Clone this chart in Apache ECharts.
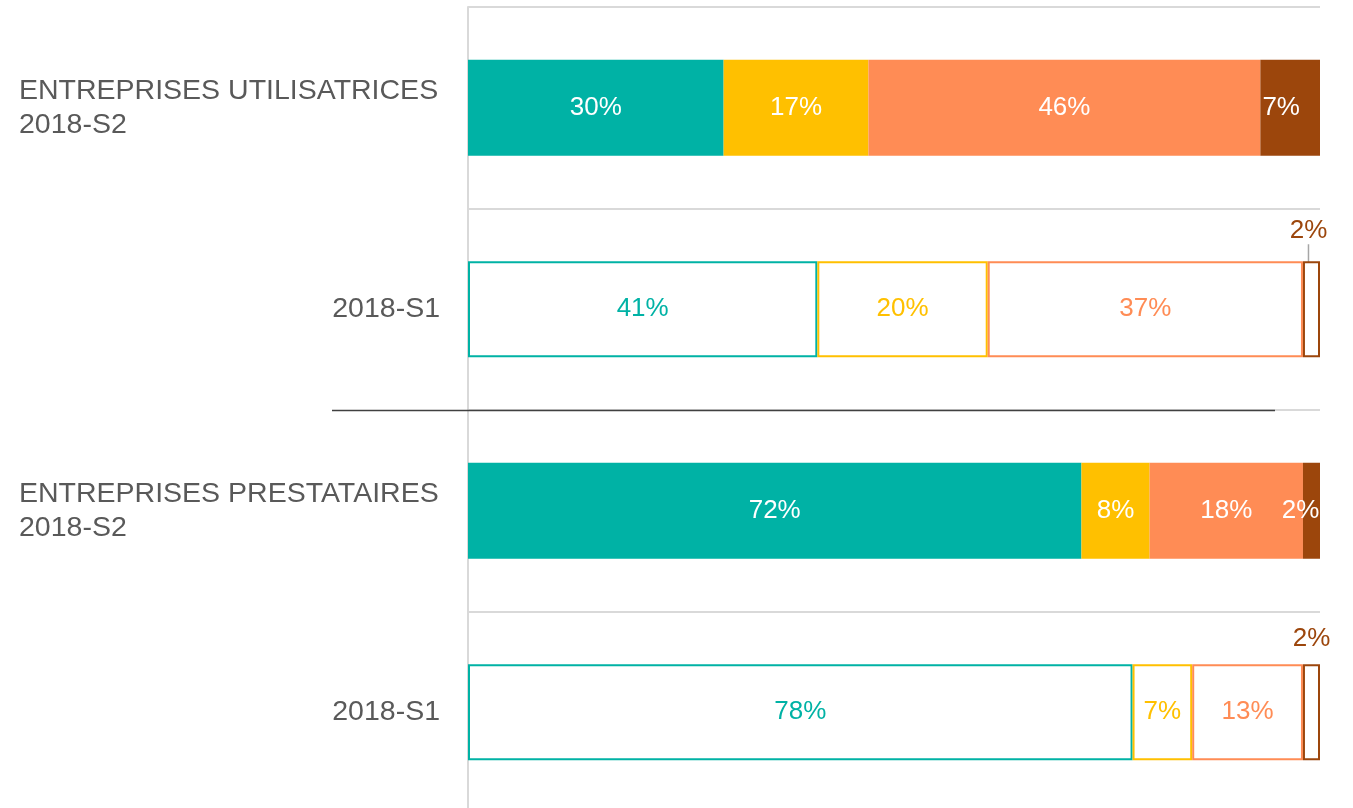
<!DOCTYPE html>
<html>
<head>
<meta charset="utf-8">
<script src="https://cdn.jsdelivr.net/npm/echarts@6/dist/echarts.min.js"></script>
<style>
  html, body { margin: 0; padding: 0; background: #ffffff; }
  #chart { width: 1353px; height: 808px; }
</style>
</head>
<body>
<div id="chart"></div>
<script>
// Rows, top to bottom
const groups = ['ENTREPRISES UTILISATRICES', '', 'ENTREPRISES PRESTATAIRES', ''];
const periods = ['2018-S2', '2018-S1', '2018-S2', '2018-S1'];

// Share of answers per row (%)
const seriesNames = ['A', 'B', 'C', 'D'];
const valuesA = [30, 41, 72, 78];
const valuesB = [17, 20, 8, 7];
const valuesC = [46, 37, 18, 13];
const valuesD = [7, 2, 2, 2];

const colors = ['#00B2A5', '#FFC000', '#FF8C55', '#9C460C'];
const allValues = [valuesA, valuesB, valuesC, valuesD];

const categories = periods.map((p, i) => (groups[i] ? groups[i] + '\n' + p : p));
const isCurrent = periods.map(p => p === '2018-S2');

const chart = echarts.init(document.getElementById('chart'));

// Small last segments: nudge the labels of filled bars left, lift the others above the bar
function lastSegmentLayout(params) {
  const i = params.dataIndex;
  if (isCurrent[i]) return { dx: i === 0 ? -9 : -11 };
  if (i === 1) return { dx: -3, dy: -9 };
  return {};
}

const series = allValues.map((vals, s) => ({
  name: seriesNames[s],
  type: 'bar',
  stack: 'total',
  barWidth: 96,
  data: vals.map((v, i) => {
    const filled = isCurrent[i];
    const item = {
      value: v,
      itemStyle: filled
        ? { color: colors[s] }
        : { color: '#ffffff', borderColor: colors[s], borderWidth: 2 },
      label: {
        show: true,
        position: 'inside',
        color: filled ? '#ffffff' : colors[s]
      }
    };
    if (s === 3 && !filled) {
      item.label.position = 'top';
      item.label.distance = i === 1 ? 8 : 12;
      if (i === 1) {
        item.labelLine = { show: true, length2: 0, lineStyle: { color: '#a6a6a6', width: 1.5 } };
      }
    }
    return item;
  }),
  label: {
    show: true,
    formatter: '{c}%',
    fontFamily: '"Liberation Sans Narrow", "Liberation Sans", Arial, sans-serif',
    fontSize: 26
  },
  labelLayout: s === 3 ? lastSegmentLayout : undefined
}));

chart.setOption({
  animation: false,
  backgroundColor: '#ffffff',
  grid: { left: 468, right: 33, top: 7, height: 806, outerBoundsMode: 'none' },
  xAxis: { type: 'value', min: 0, max: 100, show: false },
  yAxis: {
    type: 'category',
    inverse: true,
    data: categories,
    axisLine: { show: true, lineStyle: { color: '#d9d9d9', width: 2 } },
    axisTick: { show: false },
    splitLine: { show: true, lineStyle: { color: '#d9d9d9', width: 2 } },
    axisLabel: {
      margin: 28,
      formatter: function (value) {
        const lines = value.split('\n');
        if (lines.length > 1) {
          return lines.map(l => '{l|' + l + '}').join('\n');
        }
        return '{r|' + value + '}';
      },
      rich: {
        l: { width: 421, align: 'left', fontSize: 28.5, lineHeight: 34, color: '#595959', fontFamily: '"Liberation Sans", Arial, sans-serif' },
        r: { width: 421, align: 'right', fontSize: 28.5, lineHeight: 34, color: '#595959', fontFamily: '"Liberation Sans", Arial, sans-serif' }
      }
    }
  },
  series: series
});

// Separator between the two groups of rows
const y1 = chart.convertToPixel({ yAxisIndex: 0 }, 1);
const y2 = chart.convertToPixel({ yAxisIndex: 0 }, 2);
const ySep = Math.round((y1 + y2) / 2) + 0.5;
chart.setOption({
  graphic: [{
    type: 'line',
    shape: { x1: 332, y1: ySep, x2: 1275, y2: ySep },
    style: { stroke: '#404040', lineWidth: 1.5 },
    z: 10
  }]
});
</script>
</body>
</html>
